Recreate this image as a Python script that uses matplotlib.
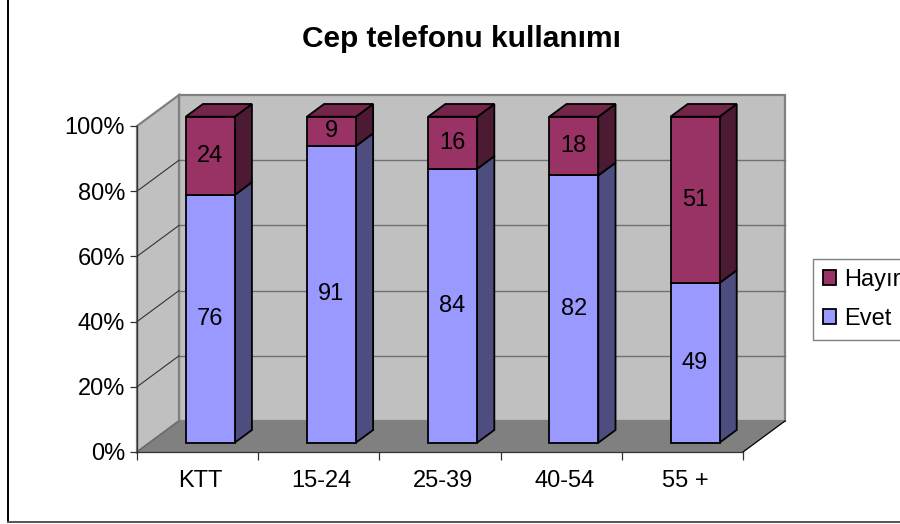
import matplotlib
matplotlib.use("Agg")
import matplotlib.pyplot as plt
from matplotlib.lines import Line2D
from matplotlib.patches import Patch, Polygon

categories = ["KTT", "15-24", "25-39", "40-54", "55 +"]
evet = [76, 91, 84, 82, 49]
hayir = [24, 9, 16, 18, 51]
y_ticks = [0, 20, 40, 60, 80, 100]

plt.rcParams["font.family"] = ["Liberation Sans", "DejaVu Sans"]

# oblique depth of the fake 3D box, in data units
DEPTH_X = 42 / 121.2
DEPTH_Y = 31 / 3.26
BAR_WIDTH = 49 / 121.2
BAR_FRONT = 0.30
BAR_BACK = 0.71
LABEL_SIZE = 17


def project(x, y, depth=0.0):
    return (x + depth * DEPTH_X, y + depth * DEPTH_Y)


def face(ax, corners, color, edge="none", lw=0, zorder=1):
    pts = [project(*c) for c in corners]
    ax.add_patch(Polygon(pts, closed=True, facecolor=color, edgecolor=edge,
                         linewidth=lw, clip_on=False, zorder=zorder, joinstyle="miter"))


def draw_segment(ax, i, low, high, front, side, top, zorder):
    x0 = i + 0.5 - BAR_WIDTH / 2
    x1 = i + 0.5 + BAR_WIDTH / 2
    # side and top first so the front edge stays on top
    face(ax, [(x1, low, BAR_FRONT), (x1, low, BAR_BACK), (x1, high, BAR_BACK), (x1, high, BAR_FRONT)],
         side, "black", 1.3, zorder)
    if top is not None:
        face(ax, [(x0, high, BAR_FRONT), (x1, high, BAR_FRONT), (x1, high, BAR_BACK), (x0, high, BAR_BACK)],
             top, "black", 1.3, zorder)
    face(ax, [(x0, low, BAR_FRONT), (x1, low, BAR_FRONT), (x1, high, BAR_FRONT), (x0, high, BAR_FRONT)],
         front, "black", 1.3, zorder + 0.1)


fig = plt.figure(figsize=(9, 5.24), dpi=100, facecolor="white")

# the outer frame only shows on the left and at the bottom
fig.add_artist(Line2D([7.5 / 900, 7.5 / 900], [1, 1 - 521.5 / 524], color="black", lw=1.4))
fig.add_artist(Line2D([7.5 / 900, 1], [1 - 521.5 / 524, 1 - 521.5 / 524], color="#555555", lw=1.4))

ax = fig.add_axes([137 / 900, 72 / 524, 606 / 900, 326 / 524])
ax.set_xlim(0, len(categories))
ax.set_ylim(0, 100)
ax.patch.set_visible(False)
n = len(categories)

# walls and floor
face(ax, [(0, 0, 1), (n, 0, 1), (n, 100, 1), (0, 100, 1)], "#C0C0C0", "#808080", 1.6, 1)
face(ax, [(0, 0, 0), (0, 0, 1), (0, 100, 1), (0, 100, 0)], "#C0C0C0", "#808080", 1.6, 1)
face(ax, [(0, 0, 0), (n, 0, 0), (n, 0, 1), (0, 0, 1)], "#808080", "none", 0, 1.2)
x_floor, y_floor = zip(project(n, 0, 0), project(n, 0, 1))
ax.plot(x_floor, y_floor, color="black", lw=0.9, clip_on=False, zorder=1.3)

# gridlines, back wall then the diagonals on the side wall
for v in y_ticks[1:-1]:
    xs, ys = zip(project(0, v, 1), project(n, v, 1))
    ax.plot(xs, ys, color="#707070", lw=1.0, clip_on=False, zorder=1.5)
    xs, ys = zip(project(0, v, 0), project(0, v, 1))
    ax.plot(xs, ys, color="#333333", lw=0.8, clip_on=False, zorder=1.5)
xs, ys = zip(project(0, 0, 0), project(0, 0, 1))
ax.plot(xs, ys, color="#666666", lw=0.8, clip_on=False, zorder=1.5)

# bars
for i, (e, h) in enumerate(zip(evet, hayir)):
    draw_segment(ax, i, 0, e, "#9999FF", "#4D4D80", None, 3 + i)
    draw_segment(ax, i, e, e + h, "#993366", "#4D1A33", "#732649", 3.3 + i)
    cx, base = project(i + 0.5, 0, BAR_FRONT)
    ax.text(cx, base + e / 2, str(e), ha="center", va="center", fontsize=LABEL_SIZE, zorder=12)
    ax.text(cx, base + e + h / 2, str(h), ha="center", va="center", fontsize=LABEL_SIZE, zorder=12)

# axes
for side in ["top", "right"]:
    ax.spines[side].set_visible(False)
for side in ["left", "bottom"]:
    ax.spines[side].set_linewidth(0.9)
    ax.spines[side].set_color("#333333")
    ax.spines[side].set_zorder(2)
ax.set_yticks(y_ticks)
ax.set_yticklabels([f"{v}%" for v in y_ticks], fontsize=LABEL_SIZE)
ax.set_xticks(range(n + 1))
ax.set_xticklabels([])
# category labels sit a little right of the slot centre
ax.set_xticks([i + 0.525 for i in range(n)], labels=categories, minor=True, fontsize=LABEL_SIZE)
ax.tick_params(axis="x", which="minor", length=0, pad=13)
ax.tick_params(axis="x", which="major", length=6, width=0.9, color="#333333")
ax.tick_params(axis="y", length=5, width=0.9, pad=3.5, color="#333333")
ax.get_xticklines()[-2].set_color("#808080")

fig.text(462 / 900, 1 - 39 / 524, "Cep telefonu kullanımı", ha="center", va="center",
         fontsize=21.5, fontweight="bold")

handles = [Patch(facecolor="#993366", edgecolor="black", linewidth=1.3),
           Patch(facecolor="#9999FF", edgecolor="black", linewidth=1.3)]
fig.legend(handles, ["Hayır", "Evet"], loc="upper left", bbox_to_anchor=(813 / 900, 1 - 259 / 524),
           borderaxespad=0, fancybox=False, framealpha=1, edgecolor="#808080", fontsize=17,
           handlelength=0.57, handleheight=0.57, handletextpad=0.32, labelspacing=0.72,
           borderpad=0.42)

fig.savefig("out.png", dpi=100)
